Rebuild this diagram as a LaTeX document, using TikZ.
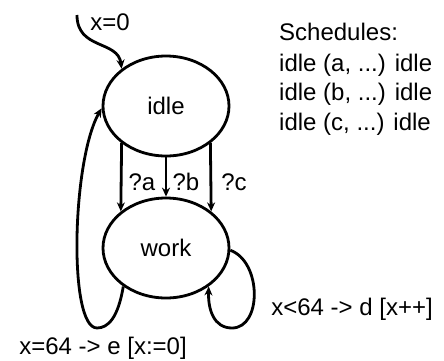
\documentclass[tikz,border=0pt]{standalone}
\usepackage{fontspec}
\setmainfont{Liberation Sans}
\usetikzlibrary{shapes.geometric,arrows.meta}
\begin{document}
\begin{tikzpicture}[x=1pt,y=-1pt,
  font=\fontsize{24}{30}\selectfont,
  state/.style={ellipse,draw,line width=2.8pt,minimum width=126pt,minimum height=100pt,inner sep=0pt},
  edge/.style={line width=2.8pt,-{Stealth[length=9pt,width=8pt]}},
  lbl/.style={inner sep=0pt}]
\useasboundingbox (0,0) rectangle (444,360);
\node[state] (idle) at (166,106) {idle};
\node[state] (work) at (166,248) {work};
\coordinate (init) at (77,15);
\node[lbl] (x0) at (110,22) {x=0};
\draw[edge] (init) .. controls (77,50) and (118,40) .. (idle.140);
\draw[edge] (idle.220) -- (work.141);
\draw[edge] (idle.south) -- (work.north);
\draw[edge] (idle.320) -- (work.39);
\node[lbl] (qa) at (142,182) {?a};
\node[lbl] (qb) at (186,182) {?b};
\node[lbl] (qc) at (234,182) {?c};
\draw[edge] (work.222) .. controls (118,318) and (108,328) .. (97,328) .. controls (68,328) and (72,160) .. (idle.182);
\draw[edge] (work.-2) .. controls (262,262) and (262,328) .. (232,328) .. controls (214,328) and (208,310) .. (work.-42);
\node[lbl] (l1) at (103,348) {x=64 -> e [x:=0]};
\node[lbl] (l2) at (352,309) {x<64 -> d [x++]};
\node[lbl,anchor=base west] (s0) at (279,40) {Schedules:};
\node[lbl,anchor=base west] (s1) at (279,71) {idle (a, ...) idle};
\node[lbl,anchor=base west] (s2) at (279,100) {idle (b, ...) idle};
\node[lbl,anchor=base west] (s3) at (279,130) {idle (c, ...) idle};
\end{tikzpicture}
\end{document}
